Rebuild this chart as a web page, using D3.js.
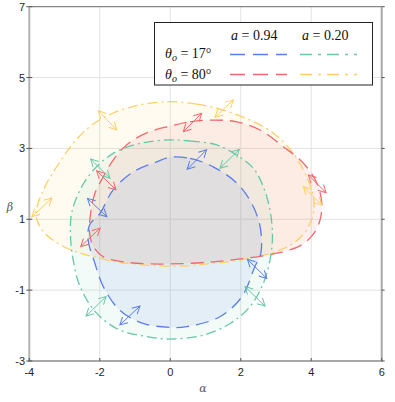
<!doctype html>
<html lang="en">
<head>
<meta charset="UTF-8">
<title>shadows</title>
<script src="https://cdn.jsdelivr.net/npm/d3@7"></script>
<style>
  body { margin: 0; background: #fff; }
  svg { display: block; }
</style>
</head>
<body>
<svg width="395" height="402"></svg>
<script>
// tick values
const xTicks = [-4, -2, 0, 2, 4, 6];
const yTicks = [-3, -1, 1, 3, 5, 7];

// shadow outlines, [alpha, beta]
const blueA094T17 = [[-0.01,2.75],[0.56,2.72],[1.22,2.48],[1.89,2.02],[2.31,1.45],[2.55,0.79],[2.57,0.04],[2.40,-0.34],[2.03,-1.19],[1.41,-1.75],[0.47,-2.03],[-0.01,-2.05],[-0.77,-1.94],[-1.43,-1.57],[-1.90,-0.90],[-2.14,-0.24],[-2.33,0.41],[-2.29,0.84],[-1.99,1.17],[-1.62,1.83],[-1.05,2.34],[-0.38,2.62]];
const greenA020T17 = [[-0.01,3.24],[0.56,3.21],[1.32,3.10],[1.89,2.81],[2.36,2.44],[2.64,1.92],[2.83,1.26],[2.90,0.51],[2.83,-0.15],[2.64,-0.81],[2.26,-1.47],[1.70,-1.94],[0.94,-2.27],[-0.01,-2.38],[-0.67,-2.31],[-1.43,-2.13],[-2.09,-1.65],[-2.56,-0.90],[-2.77,-0.06],[-2.83,0.51],[-2.80,1.17],[-2.56,1.83],[-2.18,2.39],[-1.62,2.86],[-0.86,3.14]];
const redA094T80 = [[-0.01,3.63],[0.56,3.75],[1.22,3.80],[1.89,3.75],[2.55,3.52],[3.21,3.05],[3.78,2.58],[4.16,2.02],[4.30,1.45],[4.25,0.98],[4.06,0.58],[3.68,0.25],[2.92,0.02],[1.98,-0.12],[1.22,-0.20],[0.37,-0.25],[-0.57,-0.26],[-1.33,-0.20],[-1.90,-0.06],[-2.18,0.23],[-2.29,0.61],[-2.26,1.17],[-2.14,1.73],[-1.90,2.20],[-1.62,2.67],[-1.24,3.10],[-0.67,3.44]];
const yellowA020T80 = [[-0.01,4.32],[0.75,4.25],[1.51,4.08],[2.26,3.80],[2.93,3.43],[3.49,2.86],[3.87,2.20],[4.06,1.65],[4.06,1.17],[3.87,0.70],[3.49,0.32],[2.97,0.08],[1.98,-0.15],[1.22,-0.24],[0.37,-0.32],[-0.57,-0.30],[-1.52,-0.20],[-2.37,-0.01],[-2.94,0.19],[-3.41,0.47],[-3.70,0.79],[-3.81,1.17],[-3.60,1.83],[-3.22,2.49],[-2.75,3.15],[-2.28,3.62],[-1.62,4.00],[-0.86,4.23]];

// double arrows on the outlines, [[a1,b1],[a2,b2]]
const blueArrows = [[[0.48,2.41],[1.03,2.96]],[[-2.35,1.59],[-1.80,1.07]],[[-1.43,-1.98],[-0.86,-1.45]],[[2.19,-0.13],[2.74,-0.67]]];
const greenArrows = [[[-2.26,2.70],[-1.71,2.16]],[[1.41,2.44],[1.96,2.97]],[[-2.39,-1.73],[-1.82,-1.18]],[[2.12,-0.90],[2.69,-1.45]]];
const redArrows = [[[0.37,3.47],[0.89,3.99]],[[-2.09,2.37],[-1.54,1.83]],[[-2.54,0.23],[-1.99,0.75]],[[3.92,2.25],[4.42,1.75]]];
const yellowArrows = [[[-3.93,1.07],[-3.36,1.60]],[[-2.04,4.06],[-1.52,3.52]],[[1.27,3.88],[1.79,4.37]],[[3.78,1.92],[4.30,1.40]]];

const series = [
  {name: "y", pts: yellowA020T80, arrows: yellowArrows, color: "#fdcf66", dash: "10,4,2,4", op: 0.09},
  {name: "r", pts: redA094T80, arrows: redArrows, color: "#ef6a6c", dash: "13,7", op: 0.1},
  {name: "g", pts: greenA020T17, arrows: greenArrows, color: "#66c8a8", dash: "10,4,2,4", op: 0.08},
  {name: "b", pts: blueA094T17, arrows: blueArrows, color: "#5a7eea", dash: "13,7", op: 0.1}
];

const svg = d3.select("svg");
const pLeft = 29.3, pRight = 381.7, pTop = 6.7, pBottom = 361;

const x = d3.scaleLinear().domain([-4, 6]).range([pLeft, pRight]);
const y = d3.scaleLinear().domain([-3, 7]).range([pBottom, pTop]);

// grid
svg.append("g").selectAll("line").data(xTicks).join("line")
  .attr("x1", d => x(d)).attr("x2", d => x(d))
  .attr("y1", pTop).attr("y2", pBottom)
  .attr("stroke", "#e3e3e3").attr("stroke-width", 1);
svg.append("g").selectAll("line").data(yTicks).join("line")
  .attr("y1", d => y(d)).attr("y2", d => y(d))
  .attr("x1", pLeft).attr("x2", pRight)
  .attr("stroke", "#e3e3e3").attr("stroke-width", 1);

const line = d3.line().x(d => x(d[0])).y(d => y(d[1])).curve(d3.curveCatmullRomClosed);

// fills first
svg.append("g").selectAll("path").data(series).join("path")
  .attr("d", d => line(d.pts))
  .attr("fill", d => d.color)
  .attr("fill-opacity", d => d.op)
  .attr("stroke", "none");

// arrow markers
const defs = svg.append("defs");
series.forEach(s => {
  defs.append("marker")
    .attr("id", "m" + s.name)
    .attr("viewBox", "-9 -5 10 10")
    .attr("refX", 0).attr("refY", 0)
    .attr("markerWidth", 10).attr("markerHeight", 10)
    .attr("markerUnits", "userSpaceOnUse")
    .attr("orient", "auto-start-reverse")
    .append("path")
    .attr("d", "M-7.5,-4L0,0L-7.5,4")
    .attr("fill", "none")
    .attr("stroke", s.color)
    .attr("stroke-width", 1);
});

// outlines
svg.append("g").selectAll("path").data(series).join("path")
  .attr("d", d => line(d.pts))
  .attr("fill", "none")
  .attr("stroke", d => d.color)
  .attr("stroke-width", 1.3)
  .attr("stroke-dasharray", d => d.dash);

series.forEach(s => {
  svg.append("g").selectAll("line").data(s.arrows).join("line")
    .attr("x1", d => x(d[0][0])).attr("y1", d => y(d[0][1]))
    .attr("x2", d => x(d[1][0])).attr("y2", d => y(d[1][1]))
    .attr("stroke", s.color)
    .attr("stroke-width", 1)
    .attr("marker-start", "url(#m" + s.name + ")")
    .attr("marker-end", "url(#m" + s.name + ")");
});

// frame
svg.append("line").attr("x1", pLeft).attr("x2", pRight).attr("y1", pTop).attr("y2", pTop)
  .attr("stroke", "#6e6e6e").attr("stroke-width", 1);
svg.append("line").attr("x1", pRight).attr("x2", pRight).attr("y1", pTop).attr("y2", pBottom)
  .attr("stroke", "#a8a8a8").attr("stroke-width", 2);
svg.append("line").attr("x1", pLeft).attr("x2", pLeft).attr("y1", pTop).attr("y2", pBottom + 1)
  .attr("stroke", "#b3b3b3").attr("stroke-width", 2);
svg.append("line").attr("x1", pLeft - 1).attr("x2", pRight + 1).attr("y1", pBottom).attr("y2", pBottom)
  .attr("stroke", "#a8a8a8").attr("stroke-width", 2);

// ticks
svg.append("g").selectAll("line").data(xTicks).join("line")
  .attr("x1", d => x(d)).attr("x2", d => x(d))
  .attr("y1", pBottom).attr("y2", pBottom - 3)
  .attr("stroke", "#555");
svg.append("g").selectAll("line").data(yTicks).join("line")
  .attr("y1", d => y(d)).attr("y2", d => y(d))
  .attr("x1", pLeft - 3).attr("x2", pLeft + 3)
  .attr("stroke", "#555");
svg.append("g").selectAll("line").data(yTicks).join("line")
  .attr("y1", d => y(d)).attr("y2", d => y(d))
  .attr("x1", pRight).attr("x2", pRight + 3)
  .attr("stroke", "#555");

// tick labels
svg.append("g").selectAll("text").data(xTicks).join("text")
  .attr("x", d => x(d)).attr("y", 376)
  .attr("text-anchor", "middle")
  .style("font-family", "Liberation Sans, Arial, sans-serif")
  .style("font-size", "11px").attr("fill", "#262626")
  .text(d => d);
svg.append("g").selectAll("text").data(yTicks).join("text")
  .attr("x", 25).attr("y", d => y(d) + 4)
  .attr("text-anchor", "end")
  .style("font-family", "Liberation Sans, Arial, sans-serif")
  .style("font-size", "11px").attr("fill", "#262626")
  .text(d => d);

// axis labels
svg.append("text").attr("x", 203).attr("y", 392).attr("text-anchor", "middle")
  .style("font-family", "DejaVu Serif, serif").style("font-style", "italic")
  .style("font-size", "11px").attr("fill", "#555").text("α");
svg.append("text").attr("x", 10).attr("y", 211).attr("text-anchor", "middle")
  .style("font-family", "DejaVu Serif, serif").style("font-style", "italic")
  .style("font-size", "11px").attr("fill", "#555").text("β");

// legend
const lg = svg.append("g");
lg.append("rect").attr("x", 154.5).attr("y", 22.5).attr("width", 218).attr("height", 62.5)
  .attr("fill", "#fff").attr("stroke", "#222").attr("stroke-width", 1);
const serif = "Liberation Serif, Times New Roman, serif";
function aLabel(xp, val) {
  const t = lg.append("text").attr("x", xp).attr("y", 40)
    .style("font-family", serif).style("font-size", "14px").attr("fill", "#111");
  t.append("tspan").style("font-style", "italic").text("a");
  t.append("tspan").text(" = " + val);
}
aLabel(231, "0.94");
aLabel(302, "0.20");
function tLabel(yp, val) {
  const t = lg.append("text").attr("x", 165).attr("y", yp)
    .style("font-family", serif).style("font-size", "14px").attr("fill", "#111");
  t.append("tspan").style("font-style", "italic").text("θ");
  t.append("tspan").style("font-style", "italic").style("font-size", "10px").attr("dy", 3).text("o");
  t.append("tspan").attr("dy", -3).text(" = " + val + "°");
}
tLabel(58, "17");
tLabel(79, "80");
const legRows = [
  {s: series[3], x1: 230, y: 54.5}, {s: series[2], x1: 300, y: 54.5},
  {s: series[1], x1: 230, y: 74.5}, {s: series[0], x1: 300, y: 74.5}
];
lg.selectAll("line.k").data(legRows).join("line")
  .attr("x1", d => d.x1).attr("x2", d => d.x1 + 57)
  .attr("y1", d => d.y).attr("y2", d => d.y)
  .attr("stroke", d => d.s.color).attr("stroke-width", 1.3)
  .attr("stroke-dasharray", d => d.s.name === "b" || d.s.name === "r" ? "15,8" : "12,6,3,6");
</script>
</body>
</html>
